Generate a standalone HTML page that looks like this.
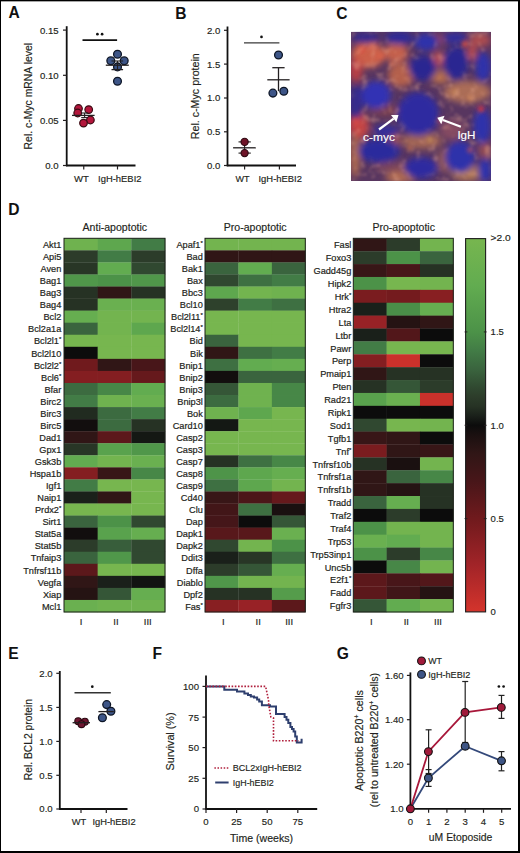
<!DOCTYPE html>
<html><head><meta charset="utf-8"><title>Figure</title>
<style>html,body{margin:0;padding:0;background:#fff;}body{width:520px;height:853px;overflow:hidden;}svg{display:block;}text{font-family:"Liberation Sans", sans-serif;}</style>
</head><body>
<svg width="520" height="853" viewBox="0 0 520 853" font-family='"Liberation Sans", sans-serif'>
<rect width="520" height="853" fill="#fff"/>
<text x="8.50" y="18.40" font-size="15.6" text-anchor="start" fill="#111" font-weight="bold" >A</text>
<line x1="66.70" y1="26.20" x2="66.70" y2="166.20" stroke="#111" stroke-width="1.8" />
<line x1="65.95" y1="165.50" x2="135.50" y2="165.50" stroke="#111" stroke-width="1.8" />
<line x1="63.00" y1="30.10" x2="66.70" y2="30.10" stroke="#231f20" stroke-width="1.2" />
<text x="58.60" y="33.50" font-size="9.6" text-anchor="end" fill="#231f20" stroke="#231f20" stroke-width="0.16" >0.15</text>
<line x1="63.00" y1="75.30" x2="66.70" y2="75.30" stroke="#231f20" stroke-width="1.2" />
<text x="58.60" y="78.70" font-size="9.6" text-anchor="end" fill="#231f20" stroke="#231f20" stroke-width="0.16" >0.10</text>
<line x1="63.00" y1="120.40" x2="66.70" y2="120.40" stroke="#231f20" stroke-width="1.2" />
<text x="58.60" y="123.80" font-size="9.6" text-anchor="end" fill="#231f20" stroke="#231f20" stroke-width="0.16" >0.05</text>
<line x1="63.00" y1="165.50" x2="66.70" y2="165.50" stroke="#231f20" stroke-width="1.2" />
<text x="58.60" y="168.90" font-size="9.6" text-anchor="end" fill="#231f20" stroke="#231f20" stroke-width="0.16" >0.0</text>
<line x1="83.75" y1="165.50" x2="83.75" y2="169.50" stroke="#231f20" stroke-width="1.2" />
<line x1="117.50" y1="165.50" x2="117.50" y2="169.50" stroke="#231f20" stroke-width="1.2" />
<text x="81.35" y="181.50" font-size="9.3" text-anchor="middle" fill="#231f20" stroke="#231f20" stroke-width="0.16" textLength="14.9" lengthAdjust="spacingAndGlyphs" >WT</text>
<text x="119.80" y="181.50" font-size="9.3" text-anchor="middle" fill="#231f20" stroke="#231f20" stroke-width="0.16" textLength="43.4" lengthAdjust="spacingAndGlyphs" >IgH-hEBI2</text>
<text x="32.30" y="96.20" font-size="10.5" text-anchor="middle" fill="#231f20" stroke="#231f20" stroke-width="0.16" textLength="106.5" lengthAdjust="spacingAndGlyphs" transform="rotate(-90 32.30 96.20)" >Rel. c-Myc mRNA level</text>
<line x1="82.50" y1="40.10" x2="117.10" y2="40.10" stroke="#111" stroke-width="1.6" />
<circle cx="97.4" cy="34.2" r="1.35" fill="#111"/><circle cx="102.1" cy="34.2" r="1.35" fill="#111"/>
<circle cx="78.50" cy="108.50" r="3.8" fill="#b3163c" stroke="#3a0a12" stroke-width="1.2"/>
<circle cx="77.70" cy="113.00" r="3.8" fill="#b3163c" stroke="#3a0a12" stroke-width="1.2"/>
<circle cx="88.70" cy="109.60" r="3.8" fill="#b3163c" stroke="#3a0a12" stroke-width="1.2"/>
<circle cx="90.40" cy="120.00" r="3.8" fill="#b3163c" stroke="#3a0a12" stroke-width="1.2"/>
<circle cx="83.50" cy="123.10" r="3.8" fill="#b3163c" stroke="#3a0a12" stroke-width="1.2"/>
<line x1="72.00" y1="115.40" x2="94.60" y2="115.40" stroke="#231f20" stroke-width="1.3" />
<line x1="81.20" y1="113.00" x2="88.00" y2="113.00" stroke="#231f20" stroke-width="1.1" />
<line x1="81.20" y1="117.60" x2="88.00" y2="117.60" stroke="#231f20" stroke-width="1.1" />
<line x1="84.60" y1="113.00" x2="84.60" y2="117.60" stroke="#231f20" stroke-width="1.1" />
<circle cx="117.50" cy="54.20" r="3.9" fill="#3d5587" stroke="#0e1626" stroke-width="1.3"/>
<circle cx="110.80" cy="60.80" r="3.9" fill="#3d5587" stroke="#0e1626" stroke-width="1.3"/>
<circle cx="124.20" cy="60.80" r="3.9" fill="#3d5587" stroke="#0e1626" stroke-width="1.3"/>
<circle cx="117.50" cy="66.90" r="3.9" fill="#3d5587" stroke="#0e1626" stroke-width="1.3"/>
<circle cx="117.50" cy="81.20" r="3.9" fill="#3d5587" stroke="#0e1626" stroke-width="1.3"/>
<line x1="105.80" y1="65.20" x2="128.80" y2="65.20" stroke="#231f20" stroke-width="1.3" />
<line x1="111.50" y1="69.60" x2="123.10" y2="69.60" stroke="#231f20" stroke-width="1.3" />
<line x1="111.50" y1="61.00" x2="123.10" y2="61.00" stroke="#231f20" stroke-width="1.1" />
<line x1="117.50" y1="61.00" x2="117.50" y2="69.60" stroke="#231f20" stroke-width="1.1" />
<text x="175.20" y="18.60" font-size="15.6" text-anchor="start" fill="#111" font-weight="bold" >B</text>
<line x1="227.50" y1="26.50" x2="227.50" y2="166.20" stroke="#111" stroke-width="1.8" />
<line x1="226.75" y1="165.50" x2="296.00" y2="165.50" stroke="#111" stroke-width="1.8" />
<line x1="224.00" y1="30.30" x2="227.50" y2="30.30" stroke="#231f20" stroke-width="1.2" />
<text x="220.30" y="33.70" font-size="9.6" text-anchor="end" fill="#231f20" stroke="#231f20" stroke-width="0.16" >2.0</text>
<line x1="224.00" y1="64.10" x2="227.50" y2="64.10" stroke="#231f20" stroke-width="1.2" />
<text x="220.30" y="67.50" font-size="9.6" text-anchor="end" fill="#231f20" stroke="#231f20" stroke-width="0.16" >1.5</text>
<line x1="224.00" y1="98.00" x2="227.50" y2="98.00" stroke="#231f20" stroke-width="1.2" />
<text x="220.30" y="101.40" font-size="9.6" text-anchor="end" fill="#231f20" stroke="#231f20" stroke-width="0.16" >1.0</text>
<line x1="224.00" y1="131.80" x2="227.50" y2="131.80" stroke="#231f20" stroke-width="1.2" />
<text x="220.30" y="135.20" font-size="9.6" text-anchor="end" fill="#231f20" stroke="#231f20" stroke-width="0.16" >0.5</text>
<line x1="224.00" y1="165.50" x2="227.50" y2="165.50" stroke="#231f20" stroke-width="1.2" />
<text x="220.30" y="168.90" font-size="9.6" text-anchor="end" fill="#231f20" stroke="#231f20" stroke-width="0.16" >0.0</text>
<line x1="244.60" y1="165.50" x2="244.60" y2="169.50" stroke="#231f20" stroke-width="1.2" />
<line x1="279.40" y1="165.50" x2="279.40" y2="169.50" stroke="#231f20" stroke-width="1.2" />
<text x="242.55" y="181.50" font-size="9.3" text-anchor="middle" fill="#231f20" stroke="#231f20" stroke-width="0.16" textLength="14.1" lengthAdjust="spacingAndGlyphs" >WT</text>
<text x="280.20" y="181.50" font-size="9.3" text-anchor="middle" fill="#231f20" stroke="#231f20" stroke-width="0.16" textLength="43.4" lengthAdjust="spacingAndGlyphs" >IgH-hEBI2</text>
<text x="198.90" y="96.20" font-size="10.6" text-anchor="middle" fill="#231f20" stroke="#231f20" stroke-width="0.16" textLength="86" lengthAdjust="spacingAndGlyphs" transform="rotate(-90 198.90 96.20)" >Rel. c-Myc protein</text>
<line x1="244.00" y1="42.90" x2="279.40" y2="42.90" stroke="#3a3a3a" stroke-width="1.4" />
<circle cx="261.5" cy="36.9" r="1.35" fill="#111"/>
<line x1="238.50" y1="141.90" x2="250.80" y2="141.90" stroke="#231f20" stroke-width="1.1" />
<line x1="238.50" y1="153.10" x2="250.80" y2="153.10" stroke="#231f20" stroke-width="1.1" />
<line x1="244.60" y1="141.90" x2="244.60" y2="153.10" stroke="#231f20" stroke-width="1.1" />
<circle cx="244.60" cy="141.90" r="3.6" fill="#6e1428" stroke="#2a0810" stroke-width="1.1"/>
<circle cx="244.60" cy="153.10" r="3.6" fill="#6e1428" stroke="#2a0810" stroke-width="1.1"/>
<line x1="233.10" y1="147.80" x2="255.80" y2="147.80" stroke="#231f20" stroke-width="1.3" />
<circle cx="278.50" cy="55.00" r="3.9" fill="#3d5587" stroke="#0e1626" stroke-width="1.3"/>
<circle cx="272.90" cy="93.10" r="3.9" fill="#3d5587" stroke="#0e1626" stroke-width="1.3"/>
<circle cx="283.80" cy="91.20" r="3.9" fill="#3d5587" stroke="#0e1626" stroke-width="1.3"/>
<line x1="278.50" y1="67.70" x2="278.50" y2="91.20" stroke="#231f20" stroke-width="1.3" />
<line x1="272.30" y1="67.70" x2="284.60" y2="67.70" stroke="#231f20" stroke-width="1.3" />
<line x1="267.30" y1="79.80" x2="289.60" y2="79.80" stroke="#231f20" stroke-width="1.3" />
<text x="336.20" y="18.70" font-size="15.6" text-anchor="start" fill="#111" font-weight="bold" >C</text>
<defs><clipPath id="cclip"><rect x="351" y="31.8" width="140" height="149.2"/></clipPath><filter id="cblur" x="-20%" y="-20%" width="140%" height="140%"><feGaussianBlur stdDeviation="3.2"/></filter><filter id="cblur2" x="-20%" y="-20%" width="140%" height="140%"><feGaussianBlur stdDeviation="2"/></filter></defs>
<g clip-path="url(#cclip)"><rect x="351" y="31.8" width="140" height="149.2" fill="#583660"/>
<g filter="url(#cblur)">
<ellipse cx="368" cy="55" rx="17" ry="13" fill="#d2624a" opacity="0.95"/>
<ellipse cx="396" cy="53" rx="12" ry="10" fill="#c9624c" opacity="0.95"/>
<ellipse cx="356" cy="70" rx="7" ry="12" fill="#c14144" opacity="0.9"/>
<ellipse cx="401" cy="75" rx="13" ry="12" fill="#b8624c" opacity="0.95"/>
<ellipse cx="440" cy="77" rx="10" ry="7" fill="#b8704c" opacity="0.95"/>
<ellipse cx="438" cy="59" rx="5" ry="8" fill="#c95453" opacity="0.85"/>
<ellipse cx="467" cy="92" rx="24" ry="11" fill="#b07057" opacity="0.95"/>
<ellipse cx="359" cy="126" rx="10" ry="13" fill="#c94644" opacity="0.95"/>
<ellipse cx="385" cy="110" rx="15" ry="6" fill="#80414c" opacity="0.9"/>
<ellipse cx="395" cy="167" rx="20" ry="5" fill="#80465b" opacity="0.9"/>
<ellipse cx="422" cy="141" rx="20" ry="8" fill="#a86953" opacity="0.9"/>
<ellipse cx="355" cy="156" rx="5" ry="22" fill="#b8704f" opacity="0.9"/>
<ellipse cx="400" cy="177" rx="15" ry="6" fill="#b8704f" opacity="0.9"/>
<ellipse cx="452" cy="130" rx="12" ry="10" fill="#904f62" opacity="0.8"/>
<ellipse cx="446" cy="160" rx="8" ry="12" fill="#a16253" opacity="0.85"/>
<ellipse cx="467" cy="173" rx="16" ry="8" fill="#b87e53" opacity="0.9"/>
<ellipse cx="480" cy="40" rx="11" ry="7" fill="#b84f4c" opacity="0.85"/>
<ellipse cx="472" cy="52" rx="4" ry="8" fill="#c94f4c" opacity="0.9"/>
<ellipse cx="437" cy="40" rx="8" ry="6" fill="#974662" opacity="0.8"/>
<ellipse cx="485" cy="150" rx="6" ry="8" fill="#a85453" opacity="0.8"/>
<ellipse cx="395" cy="140" rx="6" ry="8" fill="#a8544c" opacity="0.8"/>
<ellipse cx="366" cy="38" rx="14" ry="6" fill="#352c8c"/>
<ellipse cx="399" cy="38" rx="14" ry="7" fill="#2f2c96"/>
<ellipse cx="426" cy="42" rx="12" ry="9" fill="#2f31aa"/>
<ellipse cx="456" cy="63" rx="13" ry="17" fill="#2a2891"/>
<ellipse cx="455" cy="38" rx="12" ry="6" fill="#332f9b"/>
<ellipse cx="422.6" cy="68" rx="14" ry="13" fill="#2a2891"/>
<ellipse cx="376" cy="95" rx="15" ry="14" fill="#3133b4"/>
<ellipse cx="418" cy="114" rx="21" ry="22" fill="#2f2ba0"/>
<ellipse cx="483" cy="67" rx="8" ry="15" fill="#2f31aa"/>
<ellipse cx="482" cy="126" rx="9" ry="18" fill="#2f31aa"/>
<ellipse cx="379" cy="151" rx="21" ry="12" fill="#2c2c9d"/>
<ellipse cx="386" cy="131" rx="13" ry="6" fill="#352d9b"/>
<ellipse cx="421" cy="168" rx="17" ry="11" fill="#2f2ca0"/>
<ellipse cx="460" cy="157" rx="15" ry="16" fill="#2f31aa"/>
<ellipse cx="485" cy="170" rx="7" ry="12" fill="#2f31aa"/>
<ellipse cx="356" cy="102" rx="7" ry="17" fill="#352c8c"/>
</g>
<g filter="url(#cblur2)">
<circle cx="481" cy="109" r="3" fill="#e03838"/>
<circle cx="362" cy="50" r="3" fill="#d85040"/>
<circle cx="380" cy="56" r="3" fill="#d86048"/>
<circle cx="465" cy="44" r="3" fill="#d85040"/>
<circle cx="356" cy="122" r="3" fill="#d84a44"/>
<circle cx="440" cy="120" r="2.5" fill="#c85060"/>
<circle cx="470" cy="150" r="2.5" fill="#c05058"/>
<circle cx="372" cy="47" r="2.5" fill="#e07860"/>
<circle cx="392" cy="64" r="2.5" fill="#d87050"/>
<circle cx="455" cy="92" r="2.5" fill="#c88858"/>
<circle cx="470" cy="98" r="2.5" fill="#c88050"/>
<circle cx="430" cy="140" r="2.5" fill="#c89058"/>
<circle cx="410" cy="148" r="2.5" fill="#c07050"/>
</g>
<filter id="ctex" x="0" y="0" width="100%" height="100%"><feTurbulence type="fractalNoise" baseFrequency="0.13" numOctaves="2" seed="11" result="n"/><feColorMatrix in="n" type="matrix" values="0 0 0 0 0.85  0 0 0 0 0.42  0 0 0 0 0.3  0 0 0 3 -1.5"/><feGaussianBlur stdDeviation="0.8"/></filter>
<mask id="cmask" maskUnits="userSpaceOnUse" x="340" y="20" width="170" height="175"><rect x="340" y="20" width="170" height="175" fill="#fff"/><g filter="url(#cblur)"><ellipse cx="366" cy="38" rx="12.6" ry="5.4" fill="#000"/><ellipse cx="399" cy="38" rx="12.6" ry="6.3" fill="#000"/><ellipse cx="426" cy="42" rx="10.8" ry="8.1" fill="#000"/><ellipse cx="456" cy="63" rx="11.700000000000001" ry="15.3" fill="#000"/><ellipse cx="455" cy="38" rx="10.8" ry="5.4" fill="#000"/><ellipse cx="422.6" cy="68" rx="12.6" ry="11.700000000000001" fill="#000"/><ellipse cx="376" cy="95" rx="13.5" ry="12.6" fill="#000"/><ellipse cx="418" cy="114" rx="18.900000000000002" ry="19.8" fill="#000"/><ellipse cx="483" cy="67" rx="7.2" ry="13.5" fill="#000"/><ellipse cx="482" cy="126" rx="8.1" ry="16.2" fill="#000"/><ellipse cx="379" cy="151" rx="18.900000000000002" ry="10.8" fill="#000"/><ellipse cx="386" cy="131" rx="11.700000000000001" ry="5.4" fill="#000"/><ellipse cx="421" cy="168" rx="15.3" ry="9.9" fill="#000"/><ellipse cx="460" cy="157" rx="13.5" ry="14.4" fill="#000"/><ellipse cx="485" cy="170" rx="6.3" ry="10.8" fill="#000"/><ellipse cx="356" cy="102" rx="6.3" ry="15.3" fill="#000"/></g></mask>
<rect x="351" y="31.8" width="140" height="149.2" filter="url(#ctex)" opacity="0.38" mask="url(#cmask)"/>
</g>
<line x1="379.00" y1="129.50" x2="393.69" y2="118.58" stroke="#fff" stroke-width="2.2" />
<polygon points="398.50,115.00 396.37,122.19 391.00,114.97" fill="#fff"/>
<line x1="460.90" y1="126.80" x2="442.91" y2="119.94" stroke="#fff" stroke-width="2.2" />
<polygon points="437.30,117.80 444.51,115.73 441.30,124.14" fill="#fff"/>
<text x="379.00" y="141.30" font-size="10.5" text-anchor="middle" fill="#ffffff" stroke="#ffffff" stroke-width="0.16" textLength="31.8" lengthAdjust="spacingAndGlyphs" >c-myc</text>
<text x="466.40" y="139.20" font-size="10.5" text-anchor="middle" fill="#ffffff" stroke="#ffffff" stroke-width="0.16" textLength="18" lengthAdjust="spacingAndGlyphs" >IgH</text>
<text x="8.30" y="214.80" font-size="15.6" text-anchor="start" fill="#111" font-weight="bold" >D</text>
<rect x="64.00" y="238.30" width="33.97" height="12.35" fill="#6fb24f"/>
<rect x="97.67" y="238.30" width="33.97" height="12.35" fill="#5ea74e"/>
<rect x="131.33" y="238.30" width="33.97" height="12.35" fill="#427c46"/>
<text x="61.30" y="248.03" font-size="9.2" text-anchor="end" fill="#231f20" stroke="#231f20" stroke-width="0.2" >Akt1</text>
<rect x="64.00" y="250.35" width="33.97" height="12.35" fill="#2c3c2a"/>
<rect x="97.67" y="250.35" width="33.97" height="12.35" fill="#427c46"/>
<rect x="131.33" y="250.35" width="33.97" height="12.35" fill="#2c3c2a"/>
<text x="61.30" y="260.08" font-size="9.2" text-anchor="end" fill="#231f20" stroke="#231f20" stroke-width="0.2" >Api5</text>
<rect x="64.00" y="262.41" width="33.97" height="12.35" fill="#283626"/>
<rect x="97.67" y="262.41" width="33.97" height="12.35" fill="#62ac50"/>
<rect x="131.33" y="262.41" width="33.97" height="12.35" fill="#304830"/>
<text x="61.30" y="272.14" font-size="9.2" text-anchor="end" fill="#231f20" stroke="#231f20" stroke-width="0.2" >Aven</text>
<rect x="64.00" y="274.46" width="33.97" height="12.35" fill="#50974a"/>
<rect x="97.67" y="274.46" width="33.97" height="12.35" fill="#4c9248"/>
<rect x="131.33" y="274.46" width="33.97" height="12.35" fill="#50974a"/>
<text x="61.30" y="284.19" font-size="9.2" text-anchor="end" fill="#231f20" stroke="#231f20" stroke-width="0.2" >Bag1</text>
<rect x="64.00" y="286.52" width="33.97" height="12.35" fill="#263224"/>
<rect x="97.67" y="286.52" width="33.97" height="12.35" fill="#301616"/>
<rect x="131.33" y="286.52" width="33.97" height="12.35" fill="#263224"/>
<text x="61.30" y="296.25" font-size="9.2" text-anchor="end" fill="#231f20" stroke="#231f20" stroke-width="0.2" >Bag3</text>
<rect x="64.00" y="298.57" width="33.97" height="12.35" fill="#263224"/>
<rect x="97.67" y="298.57" width="33.97" height="12.35" fill="#6ab050"/>
<rect x="131.33" y="298.57" width="33.97" height="12.35" fill="#6ab050"/>
<text x="61.30" y="308.30" font-size="9.2" text-anchor="end" fill="#231f20" stroke="#231f20" stroke-width="0.2" >Bag4</text>
<rect x="64.00" y="310.63" width="33.97" height="12.35" fill="#66ae50"/>
<rect x="97.67" y="310.63" width="33.97" height="12.35" fill="#73b44f"/>
<rect x="131.33" y="310.63" width="33.97" height="12.35" fill="#73b44f"/>
<text x="61.30" y="320.36" font-size="9.2" text-anchor="end" fill="#231f20" stroke="#231f20" stroke-width="0.2" >Bcl2</text>
<rect x="64.00" y="322.68" width="33.97" height="12.35" fill="#3a643e"/>
<rect x="97.67" y="322.68" width="33.97" height="12.35" fill="#73b44f"/>
<rect x="131.33" y="322.68" width="33.97" height="12.35" fill="#5ea74e"/>
<text x="61.30" y="332.41" font-size="9.2" text-anchor="end" fill="#231f20" stroke="#231f20" stroke-width="0.2" >Bcl2a1a</text>
<rect x="64.00" y="334.74" width="33.97" height="12.35" fill="#77b64f"/>
<rect x="97.67" y="334.74" width="33.97" height="12.35" fill="#77b64f"/>
<rect x="131.33" y="334.74" width="33.97" height="12.35" fill="#77b64f"/>
<text x="61.30" y="344.47" font-size="9.2" text-anchor="end" fill="#231f20" stroke="#231f20" stroke-width="0.2">Bcl2l1<tspan font-size="6" dy="-3">*</tspan></text>
<rect x="64.00" y="346.79" width="33.97" height="12.35" fill="#0c0c0c"/>
<rect x="97.67" y="346.79" width="33.97" height="12.35" fill="#77b64f"/>
<rect x="131.33" y="346.79" width="33.97" height="12.35" fill="#77b64f"/>
<text x="61.30" y="356.52" font-size="9.2" text-anchor="end" fill="#231f20" stroke="#231f20" stroke-width="0.2" >Bcl2l10</text>
<rect x="64.00" y="358.85" width="33.97" height="12.35" fill="#701a1d"/>
<rect x="97.67" y="358.85" width="33.97" height="12.35" fill="#301616"/>
<rect x="131.33" y="358.85" width="33.97" height="12.35" fill="#481619"/>
<text x="61.30" y="368.58" font-size="9.2" text-anchor="end" fill="#231f20" stroke="#231f20" stroke-width="0.2">Bcl2l2<tspan font-size="6" dy="-3">*</tspan></text>
<rect x="64.00" y="370.90" width="33.97" height="12.35" fill="#841e21"/>
<rect x="97.67" y="370.90" width="33.97" height="12.35" fill="#841e21"/>
<rect x="131.33" y="370.90" width="33.97" height="12.35" fill="#66191c"/>
<text x="61.30" y="380.63" font-size="9.2" text-anchor="end" fill="#231f20" stroke="#231f20" stroke-width="0.2">Bcl6<tspan font-size="6" dy="-3">*</tspan></text>
<rect x="64.00" y="382.96" width="33.97" height="12.35" fill="#3c6b40"/>
<rect x="97.67" y="382.96" width="33.97" height="12.35" fill="#478747"/>
<rect x="131.33" y="382.96" width="33.97" height="12.35" fill="#62ac50"/>
<text x="61.30" y="392.69" font-size="9.2" text-anchor="end" fill="#231f20" stroke="#231f20" stroke-width="0.2" >Bfar</text>
<rect x="64.00" y="395.01" width="33.97" height="12.35" fill="#427c46"/>
<rect x="97.67" y="395.01" width="33.97" height="12.35" fill="#6fb24f"/>
<rect x="131.33" y="395.01" width="33.97" height="12.35" fill="#6ab050"/>
<text x="61.30" y="404.74" font-size="9.2" text-anchor="end" fill="#231f20" stroke="#231f20" stroke-width="0.2" >Birc2</text>
<rect x="64.00" y="407.07" width="33.97" height="12.35" fill="#212b20"/>
<rect x="97.67" y="407.07" width="33.97" height="12.35" fill="#3c6b40"/>
<rect x="131.33" y="407.07" width="33.97" height="12.35" fill="#427c46"/>
<text x="61.30" y="416.80" font-size="9.2" text-anchor="end" fill="#231f20" stroke="#231f20" stroke-width="0.2" >Birc3</text>
<rect x="64.00" y="419.12" width="33.97" height="12.35" fill="#120e0e"/>
<rect x="97.67" y="419.12" width="33.97" height="12.35" fill="#3c6b40"/>
<rect x="131.33" y="419.12" width="33.97" height="12.35" fill="#263224"/>
<text x="61.30" y="428.85" font-size="9.2" text-anchor="end" fill="#231f20" stroke="#231f20" stroke-width="0.2" >Birc5</text>
<rect x="64.00" y="431.18" width="33.97" height="12.35" fill="#301616"/>
<rect x="97.67" y="431.18" width="33.97" height="12.35" fill="#5c181b"/>
<rect x="131.33" y="431.18" width="33.97" height="12.35" fill="#141814"/>
<text x="61.30" y="440.90" font-size="9.2" text-anchor="end" fill="#231f20" stroke="#231f20" stroke-width="0.2" >Dad1</text>
<rect x="64.00" y="443.23" width="33.97" height="12.35" fill="#283626"/>
<rect x="97.67" y="443.23" width="33.97" height="12.35" fill="#59a24d"/>
<rect x="131.33" y="443.23" width="33.97" height="12.35" fill="#50974a"/>
<text x="61.30" y="452.96" font-size="9.2" text-anchor="end" fill="#231f20" stroke="#231f20" stroke-width="0.2" >Gpx1</text>
<rect x="64.00" y="455.29" width="33.97" height="12.35" fill="#62ac50"/>
<rect x="97.67" y="455.29" width="33.97" height="12.35" fill="#73b44f"/>
<rect x="131.33" y="455.29" width="33.97" height="12.35" fill="#6ab050"/>
<text x="61.30" y="465.01" font-size="9.2" text-anchor="end" fill="#231f20" stroke="#231f20" stroke-width="0.2" >Gsk3b</text>
<rect x="64.00" y="467.34" width="33.97" height="12.35" fill="#841e21"/>
<rect x="97.67" y="467.34" width="33.97" height="12.35" fill="#381617"/>
<rect x="131.33" y="467.34" width="33.97" height="12.35" fill="#478747"/>
<text x="61.30" y="477.07" font-size="9.2" text-anchor="end" fill="#231f20" stroke="#231f20" stroke-width="0.2" >Hspa1b</text>
<rect x="64.00" y="479.40" width="33.97" height="12.35" fill="#427c46"/>
<rect x="97.67" y="479.40" width="33.97" height="12.35" fill="#77b64f"/>
<rect x="131.33" y="479.40" width="33.97" height="12.35" fill="#77b64f"/>
<text x="61.30" y="489.12" font-size="9.2" text-anchor="end" fill="#231f20" stroke="#231f20" stroke-width="0.2" >Igf1</text>
<rect x="64.00" y="491.45" width="33.97" height="12.35" fill="#1a201a"/>
<rect x="97.67" y="491.45" width="33.97" height="12.35" fill="#301616"/>
<rect x="131.33" y="491.45" width="33.97" height="12.35" fill="#77b64f"/>
<text x="61.30" y="501.18" font-size="9.2" text-anchor="end" fill="#231f20" stroke="#231f20" stroke-width="0.2" >Naip1</text>
<rect x="64.00" y="503.51" width="33.97" height="12.35" fill="#77b64f"/>
<rect x="97.67" y="503.51" width="33.97" height="12.35" fill="#77b64f"/>
<rect x="131.33" y="503.51" width="33.97" height="12.35" fill="#77b64f"/>
<text x="61.30" y="513.23" font-size="9.2" text-anchor="end" fill="#231f20" stroke="#231f20" stroke-width="0.2">Prdx2<tspan font-size="6" dy="-3">*</tspan></text>
<rect x="64.00" y="515.56" width="33.97" height="12.35" fill="#3a643e"/>
<rect x="97.67" y="515.56" width="33.97" height="12.35" fill="#4c9248"/>
<rect x="131.33" y="515.56" width="33.97" height="12.35" fill="#304830"/>
<text x="61.30" y="525.29" font-size="9.2" text-anchor="end" fill="#231f20" stroke="#231f20" stroke-width="0.2" >Sirt1</text>
<rect x="64.00" y="527.62" width="33.97" height="12.35" fill="#120e0e"/>
<rect x="97.67" y="527.62" width="33.97" height="12.35" fill="#59a24d"/>
<rect x="131.33" y="527.62" width="33.97" height="12.35" fill="#66ae50"/>
<text x="61.30" y="537.34" font-size="9.2" text-anchor="end" fill="#231f20" stroke="#231f20" stroke-width="0.2" >Stat5a</text>
<rect x="64.00" y="539.67" width="33.97" height="12.35" fill="#2c3c2a"/>
<rect x="97.67" y="539.67" width="33.97" height="12.35" fill="#385e3b"/>
<rect x="131.33" y="539.67" width="33.97" height="12.35" fill="#304830"/>
<text x="61.30" y="549.40" font-size="9.2" text-anchor="end" fill="#231f20" stroke="#231f20" stroke-width="0.2" >Stat5b</text>
<rect x="64.00" y="551.73" width="33.97" height="12.35" fill="#3a643e"/>
<rect x="97.67" y="551.73" width="33.97" height="12.35" fill="#50974a"/>
<rect x="131.33" y="551.73" width="33.97" height="12.35" fill="#304830"/>
<text x="61.30" y="561.45" font-size="9.2" text-anchor="end" fill="#231f20" stroke="#231f20" stroke-width="0.2" >Tnfaip3</text>
<rect x="64.00" y="563.78" width="33.97" height="12.35" fill="#5c181b"/>
<rect x="97.67" y="563.78" width="33.97" height="12.35" fill="#77b64f"/>
<rect x="131.33" y="563.78" width="33.97" height="12.35" fill="#77b64f"/>
<text x="61.30" y="573.51" font-size="9.2" text-anchor="end" fill="#231f20" stroke="#231f20" stroke-width="0.2" >Tnfrsf11b</text>
<rect x="64.00" y="575.84" width="33.97" height="12.35" fill="#301616"/>
<rect x="97.67" y="575.84" width="33.97" height="12.35" fill="#1a201a"/>
<rect x="131.33" y="575.84" width="33.97" height="12.35" fill="#121412"/>
<text x="61.30" y="585.56" font-size="9.2" text-anchor="end" fill="#231f20" stroke="#231f20" stroke-width="0.2" >Vegfa</text>
<rect x="64.00" y="587.89" width="33.97" height="12.35" fill="#251313"/>
<rect x="97.67" y="587.89" width="33.97" height="12.35" fill="#355637"/>
<rect x="131.33" y="587.89" width="33.97" height="12.35" fill="#66ae50"/>
<text x="61.30" y="597.62" font-size="9.2" text-anchor="end" fill="#231f20" stroke="#231f20" stroke-width="0.2" >Xiap</text>
<rect x="64.00" y="599.95" width="33.97" height="12.35" fill="#6ab050"/>
<rect x="97.67" y="599.95" width="33.97" height="12.35" fill="#6fb24f"/>
<rect x="131.33" y="599.95" width="33.97" height="12.35" fill="#6fb24f"/>
<text x="61.30" y="609.67" font-size="9.2" text-anchor="end" fill="#231f20" stroke="#231f20" stroke-width="0.2" >Mcl1</text>
<rect x="64.00" y="238.30" width="101.00" height="373.70" fill="none" stroke="#1a1f18" stroke-width="1"/>
<text x="114.80" y="231.30" font-size="10.6" text-anchor="middle" fill="#231f20" stroke="#231f20" stroke-width="0.16" textLength="64.5" lengthAdjust="spacingAndGlyphs" >Anti-apoptotic</text>
<text x="81.00" y="625.00" font-size="9.5" text-anchor="middle" fill="#231f20" stroke="#231f20" stroke-width="0.16" >I</text>
<text x="116.00" y="625.00" font-size="9.5" text-anchor="middle" fill="#231f20" stroke="#231f20" stroke-width="0.16" >II</text>
<text x="147.80" y="625.00" font-size="9.5" text-anchor="middle" fill="#231f20" stroke="#231f20" stroke-width="0.16" >III</text>
<rect x="205.00" y="238.30" width="33.73" height="12.35" fill="#73b44f"/>
<rect x="238.43" y="238.30" width="33.73" height="12.35" fill="#73b44f"/>
<rect x="271.87" y="238.30" width="33.73" height="12.35" fill="#73b44f"/>
<text x="202.80" y="248.03" font-size="9.2" text-anchor="end" fill="#231f20" stroke="#231f20" stroke-width="0.2">Apaf1<tspan font-size="6" dy="-3">*</tspan></text>
<rect x="205.00" y="250.35" width="33.73" height="12.35" fill="#301616"/>
<rect x="238.43" y="250.35" width="33.73" height="12.35" fill="#301616"/>
<rect x="271.87" y="250.35" width="33.73" height="12.35" fill="#301616"/>
<text x="202.80" y="260.08" font-size="9.2" text-anchor="end" fill="#231f20" stroke="#231f20" stroke-width="0.2" >Bad</text>
<rect x="205.00" y="262.41" width="33.73" height="12.35" fill="#3a643e"/>
<rect x="238.43" y="262.41" width="33.73" height="12.35" fill="#62ac50"/>
<rect x="271.87" y="262.41" width="33.73" height="12.35" fill="#3a643e"/>
<text x="202.80" y="272.14" font-size="9.2" text-anchor="end" fill="#231f20" stroke="#231f20" stroke-width="0.2" >Bak1</text>
<rect x="205.00" y="274.46" width="33.73" height="12.35" fill="#304830"/>
<rect x="238.43" y="274.46" width="33.73" height="12.35" fill="#3e7042"/>
<rect x="271.87" y="274.46" width="33.73" height="12.35" fill="#427c46"/>
<text x="202.80" y="284.19" font-size="9.2" text-anchor="end" fill="#231f20" stroke="#231f20" stroke-width="0.2" >Bax</text>
<rect x="205.00" y="286.52" width="33.73" height="12.35" fill="#5ea74e"/>
<rect x="238.43" y="286.52" width="33.73" height="12.35" fill="#73b44f"/>
<rect x="271.87" y="286.52" width="33.73" height="12.35" fill="#6fb24f"/>
<text x="202.80" y="296.25" font-size="9.2" text-anchor="end" fill="#231f20" stroke="#231f20" stroke-width="0.2" >Bbc3</text>
<rect x="205.00" y="298.57" width="33.73" height="12.35" fill="#2e412c"/>
<rect x="238.43" y="298.57" width="33.73" height="12.35" fill="#427c46"/>
<rect x="271.87" y="298.57" width="33.73" height="12.35" fill="#3e7042"/>
<text x="202.80" y="308.30" font-size="9.2" text-anchor="end" fill="#231f20" stroke="#231f20" stroke-width="0.2" >Bcl10</text>
<rect x="205.00" y="310.63" width="33.73" height="12.35" fill="#77b64f"/>
<rect x="238.43" y="310.63" width="33.73" height="12.35" fill="#77b64f"/>
<rect x="271.87" y="310.63" width="33.73" height="12.35" fill="#77b64f"/>
<text x="202.80" y="320.36" font-size="9.2" text-anchor="end" fill="#231f20" stroke="#231f20" stroke-width="0.2">Bcl2l11<tspan font-size="6" dy="-3">*</tspan></text>
<rect x="205.00" y="322.68" width="33.73" height="12.35" fill="#77b64f"/>
<rect x="238.43" y="322.68" width="33.73" height="12.35" fill="#77b64f"/>
<rect x="271.87" y="322.68" width="33.73" height="12.35" fill="#77b64f"/>
<text x="202.80" y="332.41" font-size="9.2" text-anchor="end" fill="#231f20" stroke="#231f20" stroke-width="0.2">Bcl2l14<tspan font-size="6" dy="-3">*</tspan></text>
<rect x="205.00" y="334.74" width="33.73" height="12.35" fill="#3a643e"/>
<rect x="238.43" y="334.74" width="33.73" height="12.35" fill="#77b64f"/>
<rect x="271.87" y="334.74" width="33.73" height="12.35" fill="#77b64f"/>
<text x="202.80" y="344.47" font-size="9.2" text-anchor="end" fill="#231f20" stroke="#231f20" stroke-width="0.2" >Bid</text>
<rect x="205.00" y="346.79" width="33.73" height="12.35" fill="#301616"/>
<rect x="238.43" y="346.79" width="33.73" height="12.35" fill="#3e7042"/>
<rect x="271.87" y="346.79" width="33.73" height="12.35" fill="#427c46"/>
<text x="202.80" y="356.52" font-size="9.2" text-anchor="end" fill="#231f20" stroke="#231f20" stroke-width="0.2" >Bik</text>
<rect x="205.00" y="358.85" width="33.73" height="12.35" fill="#3e7042"/>
<rect x="238.43" y="358.85" width="33.73" height="12.35" fill="#62ac50"/>
<rect x="271.87" y="358.85" width="33.73" height="12.35" fill="#66ae50"/>
<text x="202.80" y="368.58" font-size="9.2" text-anchor="end" fill="#231f20" stroke="#231f20" stroke-width="0.2" >Bnip1</text>
<rect x="205.00" y="370.90" width="33.73" height="12.35" fill="#120e0e"/>
<rect x="238.43" y="370.90" width="33.73" height="12.35" fill="#3a643e"/>
<rect x="271.87" y="370.90" width="33.73" height="12.35" fill="#3a643e"/>
<text x="202.80" y="380.63" font-size="9.2" text-anchor="end" fill="#231f20" stroke="#231f20" stroke-width="0.2" >Bnip2</text>
<rect x="205.00" y="382.96" width="33.73" height="12.35" fill="#355637"/>
<rect x="238.43" y="382.96" width="33.73" height="12.35" fill="#6fb24f"/>
<rect x="271.87" y="382.96" width="33.73" height="12.35" fill="#478747"/>
<text x="202.80" y="392.69" font-size="9.2" text-anchor="end" fill="#231f20" stroke="#231f20" stroke-width="0.2" >Bnip3</text>
<rect x="205.00" y="395.01" width="33.73" height="12.35" fill="#3c6b40"/>
<rect x="238.43" y="395.01" width="33.73" height="12.35" fill="#6fb24f"/>
<rect x="271.87" y="395.01" width="33.73" height="12.35" fill="#478747"/>
<text x="202.80" y="404.74" font-size="9.2" text-anchor="end" fill="#231f20" stroke="#231f20" stroke-width="0.2" >Bnip3l</text>
<rect x="205.00" y="407.07" width="33.73" height="12.35" fill="#6fb24f"/>
<rect x="238.43" y="407.07" width="33.73" height="12.35" fill="#5ea74e"/>
<rect x="271.87" y="407.07" width="33.73" height="12.35" fill="#77b64f"/>
<text x="202.80" y="416.80" font-size="9.2" text-anchor="end" fill="#231f20" stroke="#231f20" stroke-width="0.2" >Bok</text>
<rect x="205.00" y="419.12" width="33.73" height="12.35" fill="#141814"/>
<rect x="238.43" y="419.12" width="33.73" height="12.35" fill="#77b64f"/>
<rect x="271.87" y="419.12" width="33.73" height="12.35" fill="#77b64f"/>
<text x="202.80" y="428.85" font-size="9.2" text-anchor="end" fill="#231f20" stroke="#231f20" stroke-width="0.2" >Card10</text>
<rect x="205.00" y="431.18" width="33.73" height="12.35" fill="#77b64f"/>
<rect x="238.43" y="431.18" width="33.73" height="12.35" fill="#77b64f"/>
<rect x="271.87" y="431.18" width="33.73" height="12.35" fill="#77b64f"/>
<text x="202.80" y="440.90" font-size="9.2" text-anchor="end" fill="#231f20" stroke="#231f20" stroke-width="0.2" >Casp2</text>
<rect x="205.00" y="443.23" width="33.73" height="12.35" fill="#77b64f"/>
<rect x="238.43" y="443.23" width="33.73" height="12.35" fill="#77b64f"/>
<rect x="271.87" y="443.23" width="33.73" height="12.35" fill="#77b64f"/>
<text x="202.80" y="452.96" font-size="9.2" text-anchor="end" fill="#231f20" stroke="#231f20" stroke-width="0.2" >Casp3</text>
<rect x="205.00" y="455.29" width="33.73" height="12.35" fill="#263224"/>
<rect x="238.43" y="455.29" width="33.73" height="12.35" fill="#3e7042"/>
<rect x="271.87" y="455.29" width="33.73" height="12.35" fill="#478747"/>
<text x="202.80" y="465.01" font-size="9.2" text-anchor="end" fill="#231f20" stroke="#231f20" stroke-width="0.2" >Casp7</text>
<rect x="205.00" y="467.34" width="33.73" height="12.35" fill="#4e9449"/>
<rect x="238.43" y="467.34" width="33.73" height="12.35" fill="#5ea74e"/>
<rect x="271.87" y="467.34" width="33.73" height="12.35" fill="#66ae50"/>
<text x="202.80" y="477.07" font-size="9.2" text-anchor="end" fill="#231f20" stroke="#231f20" stroke-width="0.2" >Casp8</text>
<rect x="205.00" y="479.40" width="33.73" height="12.35" fill="#3e7042"/>
<rect x="238.43" y="479.40" width="33.73" height="12.35" fill="#5ea74e"/>
<rect x="271.87" y="479.40" width="33.73" height="12.35" fill="#73b44f"/>
<text x="202.80" y="489.12" font-size="9.2" text-anchor="end" fill="#231f20" stroke="#231f20" stroke-width="0.2" >Casp9</text>
<rect x="205.00" y="491.45" width="33.73" height="12.35" fill="#381617"/>
<rect x="238.43" y="491.45" width="33.73" height="12.35" fill="#4c1619"/>
<rect x="271.87" y="491.45" width="33.73" height="12.35" fill="#66191c"/>
<text x="202.80" y="501.18" font-size="9.2" text-anchor="end" fill="#231f20" stroke="#231f20" stroke-width="0.2" >Cd40</text>
<rect x="205.00" y="503.51" width="33.73" height="12.35" fill="#421618"/>
<rect x="238.43" y="503.51" width="33.73" height="12.35" fill="#3e7042"/>
<rect x="271.87" y="503.51" width="33.73" height="12.35" fill="#1a1010"/>
<text x="202.80" y="513.23" font-size="9.2" text-anchor="end" fill="#231f20" stroke="#231f20" stroke-width="0.2" >Clu</text>
<rect x="205.00" y="515.56" width="33.73" height="12.35" fill="#451619"/>
<rect x="238.43" y="515.56" width="33.73" height="12.35" fill="#0c0c0c"/>
<rect x="271.87" y="515.56" width="33.73" height="12.35" fill="#355637"/>
<text x="202.80" y="525.29" font-size="9.2" text-anchor="end" fill="#231f20" stroke="#231f20" stroke-width="0.2" >Dap</text>
<rect x="205.00" y="527.62" width="33.73" height="12.35" fill="#58181b"/>
<rect x="238.43" y="527.62" width="33.73" height="12.35" fill="#58181b"/>
<rect x="271.87" y="527.62" width="33.73" height="12.35" fill="#6ab050"/>
<text x="202.80" y="537.34" font-size="9.2" text-anchor="end" fill="#231f20" stroke="#231f20" stroke-width="0.2" >Dapk1</text>
<rect x="205.00" y="539.67" width="33.73" height="12.35" fill="#304830"/>
<rect x="238.43" y="539.67" width="33.73" height="12.35" fill="#73b44f"/>
<rect x="271.87" y="539.67" width="33.73" height="12.35" fill="#4c9248"/>
<text x="202.80" y="549.40" font-size="9.2" text-anchor="end" fill="#231f20" stroke="#231f20" stroke-width="0.2" >Dapk2</text>
<rect x="205.00" y="551.73" width="33.73" height="12.35" fill="#1a201a"/>
<rect x="238.43" y="551.73" width="33.73" height="12.35" fill="#283626"/>
<rect x="271.87" y="551.73" width="33.73" height="12.35" fill="#3e7042"/>
<text x="202.80" y="561.45" font-size="9.2" text-anchor="end" fill="#231f20" stroke="#231f20" stroke-width="0.2" >Ddit3</text>
<rect x="205.00" y="563.78" width="33.73" height="12.35" fill="#2c3c2a"/>
<rect x="238.43" y="563.78" width="33.73" height="12.35" fill="#355637"/>
<rect x="271.87" y="563.78" width="33.73" height="12.35" fill="#66ae50"/>
<text x="202.80" y="573.51" font-size="9.2" text-anchor="end" fill="#231f20" stroke="#231f20" stroke-width="0.2" >Dffa</text>
<rect x="205.00" y="575.84" width="33.73" height="12.35" fill="#50974a"/>
<rect x="238.43" y="575.84" width="33.73" height="12.35" fill="#73b44f"/>
<rect x="271.87" y="575.84" width="33.73" height="12.35" fill="#73b44f"/>
<text x="202.80" y="585.56" font-size="9.2" text-anchor="end" fill="#231f20" stroke="#231f20" stroke-width="0.2" >Diablo</text>
<rect x="205.00" y="587.89" width="33.73" height="12.35" fill="#263224"/>
<rect x="238.43" y="587.89" width="33.73" height="12.35" fill="#263224"/>
<rect x="271.87" y="587.89" width="33.73" height="12.35" fill="#559c4b"/>
<text x="202.80" y="597.62" font-size="9.2" text-anchor="end" fill="#231f20" stroke="#231f20" stroke-width="0.2" >Dpf2</text>
<rect x="205.00" y="599.95" width="33.73" height="12.35" fill="#881f22"/>
<rect x="238.43" y="599.95" width="33.73" height="12.35" fill="#982226"/>
<rect x="271.87" y="599.95" width="33.73" height="12.35" fill="#5c181b"/>
<text x="202.80" y="609.67" font-size="9.2" text-anchor="end" fill="#231f20" stroke="#231f20" stroke-width="0.2">Fas<tspan font-size="6" dy="-3">*</tspan></text>
<rect x="205.00" y="238.30" width="100.30" height="373.70" fill="none" stroke="#1a1f18" stroke-width="1"/>
<text x="255.20" y="231.30" font-size="10.6" text-anchor="middle" fill="#231f20" stroke="#231f20" stroke-width="0.16" textLength="62.8" lengthAdjust="spacingAndGlyphs" >Pro-apoptotic</text>
<text x="223.20" y="625.00" font-size="9.5" text-anchor="middle" fill="#231f20" stroke="#231f20" stroke-width="0.16" >I</text>
<text x="258.20" y="625.00" font-size="9.5" text-anchor="middle" fill="#231f20" stroke="#231f20" stroke-width="0.16" >II</text>
<text x="289.20" y="625.00" font-size="9.5" text-anchor="middle" fill="#231f20" stroke="#231f20" stroke-width="0.16" >III</text>
<rect x="353.30" y="238.30" width="33.63" height="13.19" fill="#301616"/>
<rect x="386.63" y="238.30" width="33.63" height="13.19" fill="#2c3c2a"/>
<rect x="419.97" y="238.30" width="33.63" height="13.19" fill="#73b44f"/>
<text x="351.30" y="248.44" font-size="9.2" text-anchor="end" fill="#231f20" stroke="#231f20" stroke-width="0.2" >Fasl</text>
<rect x="353.30" y="251.19" width="33.63" height="13.19" fill="#2c3c2a"/>
<rect x="386.63" y="251.19" width="33.63" height="13.19" fill="#4c9248"/>
<rect x="419.97" y="251.19" width="33.63" height="13.19" fill="#3a643e"/>
<text x="351.30" y="261.33" font-size="9.2" text-anchor="end" fill="#231f20" stroke="#231f20" stroke-width="0.2" >Foxo3</text>
<rect x="353.30" y="264.07" width="33.63" height="13.19" fill="#381617"/>
<rect x="386.63" y="264.07" width="33.63" height="13.19" fill="#481619"/>
<rect x="419.97" y="264.07" width="33.63" height="13.19" fill="#263224"/>
<text x="351.30" y="274.22" font-size="9.2" text-anchor="end" fill="#231f20" stroke="#231f20" stroke-width="0.2" >Gadd45g</text>
<rect x="353.30" y="276.96" width="33.63" height="13.19" fill="#4c9248"/>
<rect x="386.63" y="276.96" width="33.63" height="13.19" fill="#77b64f"/>
<rect x="419.97" y="276.96" width="33.63" height="13.19" fill="#73b44f"/>
<text x="351.30" y="287.10" font-size="9.2" text-anchor="end" fill="#231f20" stroke="#231f20" stroke-width="0.2" >Hipk2</text>
<rect x="353.30" y="289.84" width="33.63" height="13.19" fill="#7a1c1f"/>
<rect x="386.63" y="289.84" width="33.63" height="13.19" fill="#741b1e"/>
<rect x="419.97" y="289.84" width="33.63" height="13.19" fill="#881f22"/>
<text x="351.30" y="299.99" font-size="9.2" text-anchor="end" fill="#231f20" stroke="#231f20" stroke-width="0.2">Hrk<tspan font-size="6" dy="-3">*</tspan></text>
<rect x="353.30" y="302.73" width="33.63" height="13.19" fill="#1a201a"/>
<rect x="386.63" y="302.73" width="33.63" height="13.19" fill="#4a8e48"/>
<rect x="419.97" y="302.73" width="33.63" height="13.19" fill="#66ae50"/>
<text x="351.30" y="312.87" font-size="9.2" text-anchor="end" fill="#231f20" stroke="#231f20" stroke-width="0.2" >Htra2</text>
<rect x="353.30" y="315.62" width="33.63" height="13.19" fill="#982226"/>
<rect x="386.63" y="315.62" width="33.63" height="13.19" fill="#251313"/>
<rect x="419.97" y="315.62" width="33.63" height="13.19" fill="#301616"/>
<text x="351.30" y="325.76" font-size="9.2" text-anchor="end" fill="#231f20" stroke="#231f20" stroke-width="0.2" >Lta</text>
<rect x="353.30" y="328.50" width="33.63" height="13.19" fill="#1a201a"/>
<rect x="386.63" y="328.50" width="33.63" height="13.19" fill="#52171a"/>
<rect x="419.97" y="328.50" width="33.63" height="13.19" fill="#0c0c0c"/>
<text x="351.30" y="338.65" font-size="9.2" text-anchor="end" fill="#231f20" stroke="#231f20" stroke-width="0.2" >Ltbr</text>
<rect x="353.30" y="341.39" width="33.63" height="13.19" fill="#427c46"/>
<rect x="386.63" y="341.39" width="33.63" height="13.19" fill="#77b64f"/>
<rect x="419.97" y="341.39" width="33.63" height="13.19" fill="#77b64f"/>
<text x="351.30" y="351.53" font-size="9.2" text-anchor="end" fill="#231f20" stroke="#231f20" stroke-width="0.2" >Pawr</text>
<rect x="353.30" y="354.28" width="33.63" height="13.19" fill="#841e21"/>
<rect x="386.63" y="354.28" width="33.63" height="13.19" fill="#ca312b"/>
<rect x="419.97" y="354.28" width="33.63" height="13.19" fill="#0c0c0c"/>
<text x="351.30" y="364.42" font-size="9.2" text-anchor="end" fill="#231f20" stroke="#231f20" stroke-width="0.2" >Perp</text>
<rect x="353.30" y="367.16" width="33.63" height="13.19" fill="#301616"/>
<rect x="386.63" y="367.16" width="33.63" height="13.19" fill="#263224"/>
<rect x="419.97" y="367.16" width="33.63" height="13.19" fill="#263224"/>
<text x="351.30" y="377.31" font-size="9.2" text-anchor="end" fill="#231f20" stroke="#231f20" stroke-width="0.2" >Pmaip1</text>
<rect x="353.30" y="380.05" width="33.63" height="13.19" fill="#263224"/>
<rect x="386.63" y="380.05" width="33.63" height="13.19" fill="#355637"/>
<rect x="419.97" y="380.05" width="33.63" height="13.19" fill="#2c3c2a"/>
<text x="351.30" y="390.19" font-size="9.2" text-anchor="end" fill="#231f20" stroke="#231f20" stroke-width="0.2" >Pten</text>
<rect x="353.30" y="392.93" width="33.63" height="13.19" fill="#59a24d"/>
<rect x="386.63" y="392.93" width="33.63" height="13.19" fill="#6ab050"/>
<rect x="419.97" y="392.93" width="33.63" height="13.19" fill="#ca312b"/>
<text x="351.30" y="403.08" font-size="9.2" text-anchor="end" fill="#231f20" stroke="#231f20" stroke-width="0.2" >Rad21</text>
<rect x="353.30" y="405.82" width="33.63" height="13.19" fill="#0c0c0c"/>
<rect x="386.63" y="405.82" width="33.63" height="13.19" fill="#0c0c0c"/>
<rect x="419.97" y="405.82" width="33.63" height="13.19" fill="#0c0c0c"/>
<text x="351.30" y="415.96" font-size="9.2" text-anchor="end" fill="#231f20" stroke="#231f20" stroke-width="0.2" >Ripk1</text>
<rect x="353.30" y="418.71" width="33.63" height="13.19" fill="#304830"/>
<rect x="386.63" y="418.71" width="33.63" height="13.19" fill="#77b64f"/>
<rect x="419.97" y="418.71" width="33.63" height="13.19" fill="#73b44f"/>
<text x="351.30" y="428.85" font-size="9.2" text-anchor="end" fill="#231f20" stroke="#231f20" stroke-width="0.2" >Sod1</text>
<rect x="353.30" y="431.59" width="33.63" height="13.19" fill="#381617"/>
<rect x="386.63" y="431.59" width="33.63" height="13.19" fill="#301616"/>
<rect x="419.97" y="431.59" width="33.63" height="13.19" fill="#0c0c0c"/>
<text x="351.30" y="441.74" font-size="9.2" text-anchor="end" fill="#231f20" stroke="#231f20" stroke-width="0.2" >Tgfb1</text>
<rect x="353.30" y="444.48" width="33.63" height="13.19" fill="#7a1c1f"/>
<rect x="386.63" y="444.48" width="33.63" height="13.19" fill="#301616"/>
<rect x="419.97" y="444.48" width="33.63" height="13.19" fill="#381617"/>
<text x="351.30" y="454.62" font-size="9.2" text-anchor="end" fill="#231f20" stroke="#231f20" stroke-width="0.2">Tnf<tspan font-size="6" dy="-3">*</tspan></text>
<rect x="353.30" y="457.37" width="33.63" height="13.19" fill="#263224"/>
<rect x="386.63" y="457.37" width="33.63" height="13.19" fill="#1a1010"/>
<rect x="419.97" y="457.37" width="33.63" height="13.19" fill="#73b44f"/>
<text x="351.30" y="467.51" font-size="9.2" text-anchor="end" fill="#231f20" stroke="#231f20" stroke-width="0.2" >Tnfrsf10b</text>
<rect x="353.30" y="470.25" width="33.63" height="13.19" fill="#301616"/>
<rect x="386.63" y="470.25" width="33.63" height="13.19" fill="#3a643e"/>
<rect x="419.97" y="470.25" width="33.63" height="13.19" fill="#478747"/>
<text x="351.30" y="480.39" font-size="9.2" text-anchor="end" fill="#231f20" stroke="#231f20" stroke-width="0.2" >Tnfrsf1a</text>
<rect x="353.30" y="483.14" width="33.63" height="13.19" fill="#301616"/>
<rect x="386.63" y="483.14" width="33.63" height="13.19" fill="#251313"/>
<rect x="419.97" y="483.14" width="33.63" height="13.19" fill="#263224"/>
<text x="351.30" y="493.28" font-size="9.2" text-anchor="end" fill="#231f20" stroke="#231f20" stroke-width="0.2" >Tnfrsf1b</text>
<rect x="353.30" y="496.02" width="33.63" height="13.19" fill="#3a643e"/>
<rect x="386.63" y="496.02" width="33.63" height="13.19" fill="#66ae50"/>
<rect x="419.97" y="496.02" width="33.63" height="13.19" fill="#263224"/>
<text x="351.30" y="506.17" font-size="9.2" text-anchor="end" fill="#231f20" stroke="#231f20" stroke-width="0.2" >Tradd</text>
<rect x="353.30" y="508.91" width="33.63" height="13.19" fill="#0c0c0c"/>
<rect x="386.63" y="508.91" width="33.63" height="13.19" fill="#2c3c2a"/>
<rect x="419.97" y="508.91" width="33.63" height="13.19" fill="#0c0c0c"/>
<text x="351.30" y="519.05" font-size="9.2" text-anchor="end" fill="#231f20" stroke="#231f20" stroke-width="0.2" >Traf2</text>
<rect x="353.30" y="521.80" width="33.63" height="13.19" fill="#4c9248"/>
<rect x="386.63" y="521.80" width="33.63" height="13.19" fill="#73b44f"/>
<rect x="419.97" y="521.80" width="33.63" height="13.19" fill="#73b44f"/>
<text x="351.30" y="531.94" font-size="9.2" text-anchor="end" fill="#231f20" stroke="#231f20" stroke-width="0.2" >Traf4</text>
<rect x="353.30" y="534.68" width="33.63" height="13.19" fill="#6ab050"/>
<rect x="386.63" y="534.68" width="33.63" height="13.19" fill="#62ac50"/>
<rect x="419.97" y="534.68" width="33.63" height="13.19" fill="#73b44f"/>
<text x="351.30" y="544.83" font-size="9.2" text-anchor="end" fill="#231f20" stroke="#231f20" stroke-width="0.2" >Trp53</text>
<rect x="353.30" y="547.57" width="33.63" height="13.19" fill="#4c9248"/>
<rect x="386.63" y="547.57" width="33.63" height="13.19" fill="#2c3c2a"/>
<rect x="419.97" y="547.57" width="33.63" height="13.19" fill="#478747"/>
<text x="351.30" y="557.71" font-size="9.2" text-anchor="end" fill="#231f20" stroke="#231f20" stroke-width="0.2" >Trp53inp1</text>
<rect x="353.30" y="560.46" width="33.63" height="13.19" fill="#0c0c0c"/>
<rect x="386.63" y="560.46" width="33.63" height="13.19" fill="#478747"/>
<rect x="419.97" y="560.46" width="33.63" height="13.19" fill="#73b44f"/>
<text x="351.30" y="570.60" font-size="9.2" text-anchor="end" fill="#231f20" stroke="#231f20" stroke-width="0.2" >Unc5b</text>
<rect x="353.30" y="573.34" width="33.63" height="13.19" fill="#5c181b"/>
<rect x="386.63" y="573.34" width="33.63" height="13.19" fill="#481619"/>
<rect x="419.97" y="573.34" width="33.63" height="13.19" fill="#52171a"/>
<text x="351.30" y="583.48" font-size="9.2" text-anchor="end" fill="#231f20" stroke="#231f20" stroke-width="0.2">E2f1<tspan font-size="6" dy="-3">*</tspan></text>
<rect x="353.30" y="586.23" width="33.63" height="13.19" fill="#5c181b"/>
<rect x="386.63" y="586.23" width="33.63" height="13.19" fill="#401618"/>
<rect x="419.97" y="586.23" width="33.63" height="13.19" fill="#251313"/>
<text x="351.30" y="596.37" font-size="9.2" text-anchor="end" fill="#231f20" stroke="#231f20" stroke-width="0.2" >Fadd</text>
<rect x="353.30" y="599.11" width="33.63" height="13.19" fill="#355637"/>
<rect x="386.63" y="599.11" width="33.63" height="13.19" fill="#62ac50"/>
<rect x="419.97" y="599.11" width="33.63" height="13.19" fill="#73b44f"/>
<text x="351.30" y="609.26" font-size="9.2" text-anchor="end" fill="#231f20" stroke="#231f20" stroke-width="0.2" >Fgfr3</text>
<rect x="353.30" y="238.30" width="100.00" height="373.70" fill="none" stroke="#1a1f18" stroke-width="1"/>
<text x="403.70" y="231.30" font-size="10.6" text-anchor="middle" fill="#231f20" stroke="#231f20" stroke-width="0.16" textLength="62.5" lengthAdjust="spacingAndGlyphs" >Pro-apoptotic</text>
<text x="371.30" y="625.00" font-size="9.5" text-anchor="middle" fill="#231f20" stroke="#231f20" stroke-width="0.16" >I</text>
<text x="406.30" y="625.00" font-size="9.5" text-anchor="middle" fill="#231f20" stroke="#231f20" stroke-width="0.16" >II</text>
<text x="438.00" y="625.00" font-size="9.5" text-anchor="middle" fill="#231f20" stroke="#231f20" stroke-width="0.16" >III</text>
<defs><linearGradient id="cbar" x1="0" y1="0" x2="0" y2="1">
<stop offset="0.0000" stop-color="rgb(119, 182, 79)"/>
<stop offset="0.1250" stop-color="rgb(98, 172, 80)"/>
<stop offset="0.2500" stop-color="rgb(76, 146, 72)"/>
<stop offset="0.3000" stop-color="rgb(66, 124, 70)"/>
<stop offset="0.3500" stop-color="rgb(58, 100, 62)"/>
<stop offset="0.4000" stop-color="rgb(48, 72, 48)"/>
<stop offset="0.4250" stop-color="rgb(44, 60, 42)"/>
<stop offset="0.4500" stop-color="rgb(38, 50, 36)"/>
<stop offset="0.4750" stop-color="rgb(26, 32, 26)"/>
<stop offset="0.5000" stop-color="rgb(12, 12, 12)"/>
<stop offset="0.5250" stop-color="rgb(26, 16, 16)"/>
<stop offset="0.5750" stop-color="rgb(48, 22, 22)"/>
<stop offset="0.6500" stop-color="rgb(72, 22, 25)"/>
<stop offset="0.7500" stop-color="rgb(112, 26, 29)"/>
<stop offset="0.8750" stop-color="rgb(162, 36, 40)"/>
<stop offset="1.0000" stop-color="rgb(212, 52, 44)"/>
</linearGradient></defs>
<rect x="465.6" y="238.6" width="20" height="373.3" fill="url(#cbar)" stroke="#1e1e1e" stroke-width="1.1"/>
<text x="490.60" y="240.90" font-size="9.5" text-anchor="start" fill="#231f20" stroke="#231f20" stroke-width="0.16" textLength="20.2" lengthAdjust="spacingAndGlyphs" >&gt;2.0</text>
<line x1="464.60" y1="331.93" x2="467.40" y2="331.93" stroke="#231f20" stroke-width="1" />
<line x1="483.80" y1="331.93" x2="486.60" y2="331.93" stroke="#231f20" stroke-width="1" />
<text x="490.60" y="335.23" font-size="9.5" text-anchor="start" fill="#231f20" stroke="#231f20" stroke-width="0.16" >1.5</text>
<line x1="464.60" y1="425.25" x2="467.40" y2="425.25" stroke="#231f20" stroke-width="1" />
<line x1="483.80" y1="425.25" x2="486.60" y2="425.25" stroke="#231f20" stroke-width="1" />
<text x="490.60" y="428.55" font-size="9.5" text-anchor="start" fill="#231f20" stroke="#231f20" stroke-width="0.16" >1.0</text>
<line x1="464.60" y1="518.58" x2="467.40" y2="518.58" stroke="#231f20" stroke-width="1" />
<line x1="483.80" y1="518.58" x2="486.60" y2="518.58" stroke="#231f20" stroke-width="1" />
<text x="490.60" y="521.88" font-size="9.5" text-anchor="start" fill="#231f20" stroke="#231f20" stroke-width="0.16" >0.5</text>
<text x="490.60" y="615.20" font-size="9.5" text-anchor="start" fill="#231f20" stroke="#231f20" stroke-width="0.16" >0</text>
<text x="8.30" y="658.60" font-size="15.6" text-anchor="start" fill="#111" font-weight="bold" >E</text>
<line x1="59.80" y1="671.00" x2="59.80" y2="809.90" stroke="#111" stroke-width="1.8" />
<line x1="59.05" y1="809.00" x2="127.50" y2="809.00" stroke="#111" stroke-width="1.8" />
<line x1="56.30" y1="673.30" x2="59.80" y2="673.30" stroke="#231f20" stroke-width="1.2" />
<text x="52.70" y="676.70" font-size="9.6" text-anchor="end" fill="#231f20" stroke="#231f20" stroke-width="0.16" >2.0</text>
<line x1="56.30" y1="707.40" x2="59.80" y2="707.40" stroke="#231f20" stroke-width="1.2" />
<text x="52.70" y="710.80" font-size="9.6" text-anchor="end" fill="#231f20" stroke="#231f20" stroke-width="0.16" >1.5</text>
<line x1="56.30" y1="741.40" x2="59.80" y2="741.40" stroke="#231f20" stroke-width="1.2" />
<text x="52.70" y="744.80" font-size="9.6" text-anchor="end" fill="#231f20" stroke="#231f20" stroke-width="0.16" >1.0</text>
<line x1="56.30" y1="775.30" x2="59.80" y2="775.30" stroke="#231f20" stroke-width="1.2" />
<text x="52.70" y="778.70" font-size="9.6" text-anchor="end" fill="#231f20" stroke="#231f20" stroke-width="0.16" >0.5</text>
<line x1="56.30" y1="809.00" x2="59.80" y2="809.00" stroke="#231f20" stroke-width="1.2" />
<text x="52.70" y="812.40" font-size="9.6" text-anchor="end" fill="#231f20" stroke="#231f20" stroke-width="0.16" >0.0</text>
<line x1="81.00" y1="809.00" x2="81.00" y2="813.00" stroke="#231f20" stroke-width="1.2" />
<line x1="106.30" y1="809.00" x2="106.30" y2="813.00" stroke="#231f20" stroke-width="1.2" />
<text x="79.00" y="825.00" font-size="9.3" text-anchor="middle" fill="#231f20" stroke="#231f20" stroke-width="0.16" >WT</text>
<text x="114.00" y="825.00" font-size="9.3" text-anchor="middle" fill="#231f20" stroke="#231f20" stroke-width="0.16" textLength="43.2" lengthAdjust="spacingAndGlyphs" >IgH-hEBI2</text>
<text x="31.70" y="739.60" font-size="10.3" text-anchor="middle" fill="#231f20" stroke="#231f20" stroke-width="0.16" textLength="81.1" lengthAdjust="spacingAndGlyphs" transform="rotate(-90 31.70 739.60)" >Rel. BCL2 protein</text>
<line x1="74.50" y1="692.70" x2="110.80" y2="692.70" stroke="#333" stroke-width="1.4" />
<circle cx="92.3" cy="686.7" r="1.35" fill="#111"/>
<circle cx="78.20" cy="721.20" r="3.4" fill="#6e1630" stroke="#2a0810" stroke-width="1.1"/>
<circle cx="84.90" cy="721.70" r="3.4" fill="#6e1630" stroke="#2a0810" stroke-width="1.1"/>
<circle cx="81.50" cy="724.20" r="3.4" fill="#6e1630" stroke="#2a0810" stroke-width="1.1"/>
<line x1="72.60" y1="722.70" x2="90.00" y2="722.70" stroke="#231f20" stroke-width="1.3" />
<circle cx="106.70" cy="704.60" r="3.9" fill="#3d5587" stroke="#0e1626" stroke-width="1.3"/>
<circle cx="110.90" cy="711.20" r="3.9" fill="#3d5587" stroke="#0e1626" stroke-width="1.3"/>
<circle cx="102.40" cy="717.70" r="3.9" fill="#3d5587" stroke="#0e1626" stroke-width="1.3"/>
<line x1="98.40" y1="711.60" x2="113.80" y2="711.60" stroke="#231f20" stroke-width="1.3" />
<text x="152.50" y="658.60" font-size="15.6" text-anchor="start" fill="#111" font-weight="bold" >F</text>
<line x1="206.00" y1="675.60" x2="206.00" y2="809.80" stroke="#111" stroke-width="1.8" />
<line x1="205.25" y1="809.00" x2="317.20" y2="809.00" stroke="#111" stroke-width="1.8" />
<line x1="202.50" y1="686.40" x2="206.00" y2="686.40" stroke="#231f20" stroke-width="1.2" />
<text x="199.00" y="689.80" font-size="9.6" text-anchor="end" fill="#231f20" stroke="#231f20" stroke-width="0.16" >100</text>
<line x1="202.50" y1="717.10" x2="206.00" y2="717.10" stroke="#231f20" stroke-width="1.2" />
<text x="199.00" y="720.50" font-size="9.6" text-anchor="end" fill="#231f20" stroke="#231f20" stroke-width="0.16" >75</text>
<line x1="202.50" y1="747.60" x2="206.00" y2="747.60" stroke="#231f20" stroke-width="1.2" />
<text x="199.00" y="751.00" font-size="9.6" text-anchor="end" fill="#231f20" stroke="#231f20" stroke-width="0.16" >50</text>
<line x1="202.50" y1="778.30" x2="206.00" y2="778.30" stroke="#231f20" stroke-width="1.2" />
<text x="199.00" y="781.70" font-size="9.6" text-anchor="end" fill="#231f20" stroke="#231f20" stroke-width="0.16" >25</text>
<line x1="202.50" y1="809.00" x2="206.00" y2="809.00" stroke="#231f20" stroke-width="1.2" />
<text x="199.00" y="812.40" font-size="9.6" text-anchor="end" fill="#231f20" stroke="#231f20" stroke-width="0.16" >0</text>
<line x1="206.00" y1="809.00" x2="206.00" y2="813.00" stroke="#231f20" stroke-width="1.2" />
<text x="206.00" y="824.50" font-size="9.6" text-anchor="middle" fill="#231f20" stroke="#231f20" stroke-width="0.16" >0</text>
<line x1="236.60" y1="809.00" x2="236.60" y2="813.00" stroke="#231f20" stroke-width="1.2" />
<text x="236.60" y="824.50" font-size="9.6" text-anchor="middle" fill="#231f20" stroke="#231f20" stroke-width="0.16" >25</text>
<line x1="267.20" y1="809.00" x2="267.20" y2="813.00" stroke="#231f20" stroke-width="1.2" />
<text x="267.20" y="824.50" font-size="9.6" text-anchor="middle" fill="#231f20" stroke="#231f20" stroke-width="0.16" >50</text>
<line x1="297.80" y1="809.00" x2="297.80" y2="813.00" stroke="#231f20" stroke-width="1.2" />
<text x="297.80" y="824.50" font-size="9.6" text-anchor="middle" fill="#231f20" stroke="#231f20" stroke-width="0.16" >75</text>
<text x="261.50" y="842.00" font-size="10.5" text-anchor="middle" fill="#231f20" stroke="#231f20" stroke-width="0.16" textLength="63" lengthAdjust="spacingAndGlyphs" >Time (weeks)</text>
<text x="174.40" y="741.50" font-size="10.6" text-anchor="middle" fill="#231f20" stroke="#231f20" stroke-width="0.16" textLength="58" lengthAdjust="spacingAndGlyphs" transform="rotate(-90 174.40 741.50)" >Survival (%)</text>
<path d="M206.0,686.4 L224.3,686.4 L224.3,689.8 L237.0,689.8 L237.0,691.5 L244.4,691.5 L244.4,693.6 L248.0,693.6 L248.0,695.0 L250.8,695.0 L250.8,696.4 L254.0,696.4 L254.0,697.5 L257.1,697.5 L257.1,699.5 L259.2,699.5 L259.2,701.4 L261.9,701.4 L261.9,705.2 L270.0,705.2 L270.0,706.5 L276.0,706.5 L276.0,713.9 L284.6,713.9 L284.6,717.0 L286.5,717.0 L286.5,719.7 L288.3,719.7 L288.3,722.9 L290.4,722.9 L290.4,727.0 L292.0,727.0 L292.0,729.0 L293.6,729.0 L293.6,731.5 L295.2,731.5 L295.2,736.6 L296.8,736.6 L296.8,742.4 L301.6,742.4 L301.6,738.7" fill="none" stroke="#2e3f6e" stroke-width="2" stroke-linejoin="miter"/>
<path d="M206.0,686.4 L265.6,686.4 L267.2,693.8 L268.5,700.0 L268.8,705.4 L270.3,713.9 L270.9,717.0 L273.5,718.0 L273.5,740.8 L298.5,740.8" fill="none" stroke="#b01f3c" stroke-width="1.6" stroke-dasharray="1.6 1.6"/>
<line x1="214.4" y1="768" x2="229.5" y2="768" stroke="#b01f3c" stroke-width="1.6" stroke-dasharray="1.5 1.6"/>
<text x="232.80" y="771.30" font-size="9.3" text-anchor="start" fill="#231f20" stroke="#231f20" stroke-width="0.16" textLength="68.7" lengthAdjust="spacingAndGlyphs" >BCL2xIgH-hEBI2</text>
<line x1="215.20" y1="782.50" x2="228.60" y2="782.50" stroke="#2e3f6e" stroke-width="2" />
<text x="232.80" y="786.00" font-size="9.3" text-anchor="start" fill="#231f20" stroke="#231f20" stroke-width="0.16" textLength="41" lengthAdjust="spacingAndGlyphs" >IgH-hEBI2</text>
<text x="336.80" y="658.80" font-size="15.6" text-anchor="start" fill="#111" font-weight="bold" >G</text>
<line x1="410.40" y1="672.40" x2="410.40" y2="809.50" stroke="#111" stroke-width="1.8" />
<line x1="409.65" y1="808.80" x2="511.00" y2="808.80" stroke="#111" stroke-width="1.8" />
<line x1="406.90" y1="675.40" x2="410.40" y2="675.40" stroke="#231f20" stroke-width="1.2" />
<text x="403.60" y="678.80" font-size="9.6" text-anchor="end" fill="#231f20" stroke="#231f20" stroke-width="0.16" >1.60</text>
<line x1="406.90" y1="719.70" x2="410.40" y2="719.70" stroke="#231f20" stroke-width="1.2" />
<text x="403.60" y="723.10" font-size="9.6" text-anchor="end" fill="#231f20" stroke="#231f20" stroke-width="0.16" >1.40</text>
<line x1="406.90" y1="764.20" x2="410.40" y2="764.20" stroke="#231f20" stroke-width="1.2" />
<text x="403.60" y="767.60" font-size="9.6" text-anchor="end" fill="#231f20" stroke="#231f20" stroke-width="0.16" >1.20</text>
<line x1="406.90" y1="808.80" x2="410.40" y2="808.80" stroke="#231f20" stroke-width="1.2" />
<text x="403.60" y="812.20" font-size="9.6" text-anchor="end" fill="#231f20" stroke="#231f20" stroke-width="0.16" >1.0</text>
<line x1="410.40" y1="808.80" x2="410.40" y2="812.80" stroke="#231f20" stroke-width="1.2" />
<text x="410.40" y="825.00" font-size="9.6" text-anchor="middle" fill="#231f20" stroke="#231f20" stroke-width="0.16" >0</text>
<line x1="428.60" y1="808.80" x2="428.60" y2="812.80" stroke="#231f20" stroke-width="1.2" />
<text x="428.60" y="825.00" font-size="9.6" text-anchor="middle" fill="#231f20" stroke="#231f20" stroke-width="0.16" >1</text>
<line x1="446.90" y1="808.80" x2="446.90" y2="812.80" stroke="#231f20" stroke-width="1.2" />
<text x="446.90" y="825.00" font-size="9.6" text-anchor="middle" fill="#231f20" stroke="#231f20" stroke-width="0.16" >2</text>
<line x1="465.20" y1="808.80" x2="465.20" y2="812.80" stroke="#231f20" stroke-width="1.2" />
<text x="465.20" y="825.00" font-size="9.6" text-anchor="middle" fill="#231f20" stroke="#231f20" stroke-width="0.16" >3</text>
<line x1="483.50" y1="808.80" x2="483.50" y2="812.80" stroke="#231f20" stroke-width="1.2" />
<text x="483.50" y="825.00" font-size="9.6" text-anchor="middle" fill="#231f20" stroke="#231f20" stroke-width="0.16" >4</text>
<line x1="501.70" y1="808.80" x2="501.70" y2="812.80" stroke="#231f20" stroke-width="1.2" />
<text x="501.70" y="825.00" font-size="9.6" text-anchor="middle" fill="#231f20" stroke="#231f20" stroke-width="0.16" >5</text>
<text x="460.60" y="841.00" font-size="10.5" text-anchor="middle" fill="#231f20" stroke="#231f20" stroke-width="0.16" textLength="63.5" lengthAdjust="spacingAndGlyphs" >uM Etoposide</text>
<text x="363.2" y="740.6" font-size="10.7" text-anchor="middle" fill="#231f20" stroke="#231f20" stroke-width="0.16" transform="rotate(-90 363.2 740.6)">Apoptotic B220<tspan font-size="7" dy="-3.8">+</tspan><tspan dy="3.8"> cells</tspan></text>
<text x="377.6" y="740" font-size="10.6" text-anchor="middle" fill="#231f20" stroke="#231f20" stroke-width="0.16" transform="rotate(-90 377.6 740)">(rel to untreated B220<tspan font-size="7" dy="-3.8">+</tspan><tspan dy="3.8"> cells)</tspan></text>
<line x1="428.60" y1="729.80" x2="428.60" y2="773.50" stroke="#222" stroke-width="1.2" />
<line x1="425.60" y1="729.80" x2="431.60" y2="729.80" stroke="#222" stroke-width="1.2" />
<line x1="425.60" y1="773.50" x2="431.60" y2="773.50" stroke="#222" stroke-width="1.2" />
<line x1="465.20" y1="681.50" x2="465.20" y2="746.00" stroke="#222" stroke-width="1.2" />
<line x1="462.20" y1="681.50" x2="468.20" y2="681.50" stroke="#222" stroke-width="1.2" />
<line x1="462.20" y1="746.00" x2="468.20" y2="746.00" stroke="#222" stroke-width="1.2" />
<line x1="501.50" y1="695.40" x2="501.50" y2="718.40" stroke="#222" stroke-width="1.2" />
<line x1="498.50" y1="695.40" x2="504.50" y2="695.40" stroke="#222" stroke-width="1.2" />
<line x1="498.50" y1="718.40" x2="504.50" y2="718.40" stroke="#222" stroke-width="1.2" />
<line x1="428.60" y1="769.60" x2="428.60" y2="786.40" stroke="#222" stroke-width="1.2" />
<line x1="425.60" y1="769.60" x2="431.60" y2="769.60" stroke="#222" stroke-width="1.2" />
<line x1="425.60" y1="786.40" x2="431.60" y2="786.40" stroke="#222" stroke-width="1.2" />
<line x1="465.20" y1="742.50" x2="465.20" y2="749.50" stroke="#222" stroke-width="1.2" />
<line x1="462.20" y1="742.50" x2="468.20" y2="742.50" stroke="#222" stroke-width="1.2" />
<line x1="462.20" y1="749.50" x2="468.20" y2="749.50" stroke="#222" stroke-width="1.2" />
<line x1="501.50" y1="751.60" x2="501.50" y2="770.80" stroke="#222" stroke-width="1.2" />
<line x1="498.50" y1="751.60" x2="504.50" y2="751.60" stroke="#222" stroke-width="1.2" />
<line x1="498.50" y1="770.80" x2="504.50" y2="770.80" stroke="#222" stroke-width="1.2" />
<polyline points="410.4,808.8 428.4,778 465.2,746.2 501.5,760.8" fill="none" stroke="#34497a" stroke-width="1.8"/>
<polyline points="410.4,808.8 428.4,751.6 465.0,712.4 501.3,707.4" fill="none" stroke="#a8173a" stroke-width="1.8"/>
<circle cx="428.40" cy="778.00" r="3.9" fill="#3e5585" stroke="#111" stroke-width="1.1"/>
<circle cx="465.20" cy="746.20" r="3.9" fill="#3e5585" stroke="#111" stroke-width="1.1"/>
<circle cx="501.50" cy="760.80" r="3.9" fill="#3e5585" stroke="#111" stroke-width="1.1"/>
<circle cx="410.40" cy="808.80" r="3.9" fill="#a01a3a" stroke="#111" stroke-width="1.1"/>
<circle cx="428.40" cy="751.60" r="3.9" fill="#a01a3a" stroke="#111" stroke-width="1.1"/>
<circle cx="465.00" cy="712.40" r="3.9" fill="#a01a3a" stroke="#111" stroke-width="1.1"/>
<circle cx="501.30" cy="707.40" r="3.9" fill="#a01a3a" stroke="#111" stroke-width="1.1"/>
<circle cx="498.9" cy="686.5" r="1.35" fill="#111"/><circle cx="503.6" cy="686.5" r="1.35" fill="#111"/>
<circle cx="421.50" cy="660.90" r="3.9" fill="#a01a3a" stroke="#111" stroke-width="1.1"/>
<circle cx="421.50" cy="674.40" r="3.9" fill="#3e5585" stroke="#111" stroke-width="1.1"/>
<text x="428.30" y="664.30" font-size="9.3" text-anchor="start" fill="#231f20" stroke="#231f20" stroke-width="0.16" textLength="13.7" lengthAdjust="spacingAndGlyphs" >WT</text>
<text x="428.30" y="677.80" font-size="9.3" text-anchor="start" fill="#231f20" stroke="#231f20" stroke-width="0.16" textLength="42" lengthAdjust="spacingAndGlyphs" >IgH-hEBI2</text>
<rect x="0.5" y="0.5" width="518" height="851" fill="none" stroke="#000" stroke-width="1"/>
<line x1="519" y1="0" x2="519" y2="853" stroke="#000" stroke-width="2"/>
<line x1="0" y1="852" x2="520" y2="852" stroke="#000" stroke-width="2"/>
<line x1="0" y1="1.2" x2="520" y2="1.2" stroke="#000" stroke-width="1" opacity="0.5"/>
</svg>
</body></html>
